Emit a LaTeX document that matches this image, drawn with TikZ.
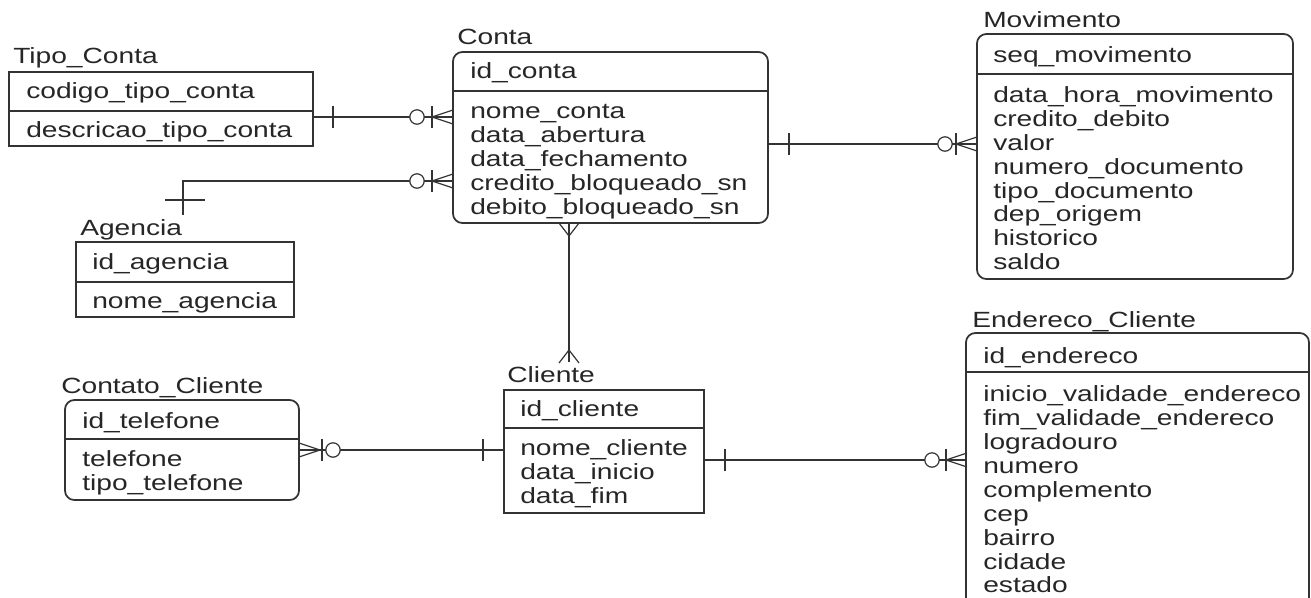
\documentclass[tikz,border=0pt]{standalone}
\usepackage{fontspec}
\setmainfont[FakeStretch=1.28]{Liberation Sans}
\usetikzlibrary{fit}

\begin{document}
\begin{tikzpicture}[
  x=0.75pt, y=-0.75pt,
  font=\fontsize{16.5}{19}\selectfont,
  entity/.style={draw=black!80, line width=1.3pt, inner sep=0pt},
  roundentity/.style={entity, rounded corners=7pt},
  divider/.style={draw=black!80, line width=1.3pt},
  title/.style={anchor=base west, inner sep=0pt, text=black!85},
  attr/.style={anchor=base west, inner sep=0pt, text=black!85},
  link/.style={draw=black!80, line width=0.9pt},
  onebar/.pic={\draw[link] (0,-11) -- (0,11);},
  zeroring/.pic={\draw[link, fill=white] (0,0) circle[radius=5.4pt];},
  manycrow/.pic={\draw[link] (21,-7) -- (0,0) -- (21,7);},
  manycrowv/.pic={\draw[link] (-10,-13) -- (0,0) -- (10,-13);}
]
\useasboundingbox (0,0) rectangle (1311,597);
\clip (0,0) rectangle (1311,597);

% Tipo_Conta
\node[title] (tipo-title) at (13,63) {Tipo\_Conta};
\node[entity, fit={(9,72) (313,146)}] (tipo) {};
\draw[divider] (tipo.west |- 0,111) -- (tipo.east |- 0,111);
\node[attr] (tipo-key) at (26,98) {codigo\_tipo\_conta};
\node[attr] (tipo-1) at (26,137) {descricao\_tipo\_conta};

% Conta
\node[title] (conta-title) at (457,44) {Conta};
\node[roundentity, fit={(453,52) (768,223)}] (conta) {};
\draw[divider] (conta.west |- 0,91) -- (conta.east |- 0,91);
\node[attr] (conta-key) at (470,78) {id\_conta};
\node[attr] (conta-1) at (470,118) {nome\_conta};
\node[attr] (conta-2) at (470,142) {data\_abertura};
\node[attr] (conta-3) at (470,166) {data\_fechamento};
\node[attr] (conta-4) at (470,190) {credito\_bloqueado\_sn};
\node[attr] (conta-5) at (470,214) {debito\_bloqueado\_sn};

% Movimento
\node[title] (mov-title) at (983,27) {Movimento};
\node[roundentity, fit={(977,34) (1293,279)}] (mov) {};
\draw[divider] (mov.west |- 0,74) -- (mov.east |- 0,74);
\node[attr] (mov-key) at (993,62) {seq\_movimento};
\node[attr] (mov-1) at (993,102) {data\_hora\_movimento};
\node[attr] (mov-2) at (993,126) {credito\_debito};
\node[attr] (mov-3) at (993,150) {valor};
\node[attr] (mov-4) at (993,174) {numero\_documento};
\node[attr] (mov-5) at (993,198) {tipo\_documento};
\node[attr] (mov-6) at (993,221) {dep\_origem};
\node[attr] (mov-7) at (993,245) {historico};
\node[attr] (mov-8) at (993,269) {saldo};

% Agencia
\node[title] (agencia-title) at (80,235) {Agencia};
\node[entity, fit={(76,242) (294,317)}] (agencia) {};
\draw[divider] (agencia.west |- 0,282) -- (agencia.east |- 0,282);
\node[attr] (agencia-key) at (92,269) {id\_agencia};
\node[attr] (agencia-1) at (92,308) {nome\_agencia};

% Contato_Cliente
\node[title] (contato-title) at (61,393) {Contato\_Cliente};
\node[roundentity, fit={(65,400) (299,500)}] (contato) {};
\draw[divider] (contato.west |- 0,439) -- (contato.east |- 0,439);
\node[attr] (contato-key) at (82,428) {id\_telefone};
\node[attr] (contato-1) at (82,466) {telefone};
\node[attr] (contato-2) at (82,490) {tipo\_telefone};

% Cliente
\node[title] (cliente-title) at (507,382) {Cliente};
\node[entity, fit={(504,390) (704,513)}] (cliente) {};
\draw[divider] (cliente.west |- 0,428) -- (cliente.east |- 0,428);
\node[attr] (cliente-key) at (520,416) {id\_cliente};
\node[attr] (cliente-1) at (520,455) {nome\_cliente};
\node[attr] (cliente-2) at (520,479) {data\_inicio};
\node[attr] (cliente-3) at (520,503) {data\_fim};

% Endereco_Cliente
\node[title] (end-title) at (972,327) {Endereco\_Cliente};
\node[roundentity, fit={(966,333) (1309,640)}] (end) {};
\draw[divider] (end.west |- 0,372) -- (end.east |- 0,372);
\node[attr] (end-key) at (983,363) {id\_endereco};
\node[attr] (end-1) at (983,401) {inicio\_validade\_endereco};
\node[attr] (end-2) at (983,425) {fim\_validade\_endereco};
\node[attr] (end-3) at (983,449) {logradouro};
\node[attr] (end-4) at (983,473) {numero};
\node[attr] (end-5) at (983,497) {complemento};
\node[attr] (end-6) at (983,521) {cep};
\node[attr] (end-7) at (983,545) {bairro};
\node[attr] (end-8) at (983,569) {cidade};
\node[attr] (end-9) at (983,592) {estado};

% relationships
\coordinate (agencia-end) at (183,215);
\coordinate (cliente-end) at (569,362);

\draw[link] (tipo.east |- 0,117) -- (conta.west |- 0,117);
\pic at (333,117) {onebar};
\pic at (417,117) {zeroring};
\pic at (432,117) {onebar};
\pic at (432,117) {manycrow};

\draw[link] (conta.west |- 0,181) -| (agencia-end);
\draw[link] (165,200) -- (205,200);
\pic at (417,181) {zeroring};
\pic at (432,181) {onebar};
\pic at (432,181) {manycrow};

\draw[link] (conta.east |- 0,144) -- (mov.west |- 0,144);
\pic at (789,144) {onebar};
\pic at (945,144) {zeroring};
\pic at (956,144) {onebar};
\pic at (956,144) {manycrow};

\draw[link] (conta.south -| 569,0) -- (cliente-end);
\pic at (569,236) {manycrowv};
\pic[yscale=-1] at (569,350) {manycrowv};

\draw[link] (contato.east |- 0,450) -- (cliente.west |- 0,450);
\pic[rotate=180] at (320,450) {manycrow};
\pic at (322,450) {onebar};
\pic at (333,450) {zeroring};
\pic at (483,450) {onebar};

\draw[link] (cliente.east |- 0,460) -- (end.west |- 0,460);
\pic at (725,460) {onebar};
\pic at (932,460) {zeroring};
\pic at (946,460) {onebar};
\pic at (946,460) {manycrow};
\end{tikzpicture}
\end{document}
